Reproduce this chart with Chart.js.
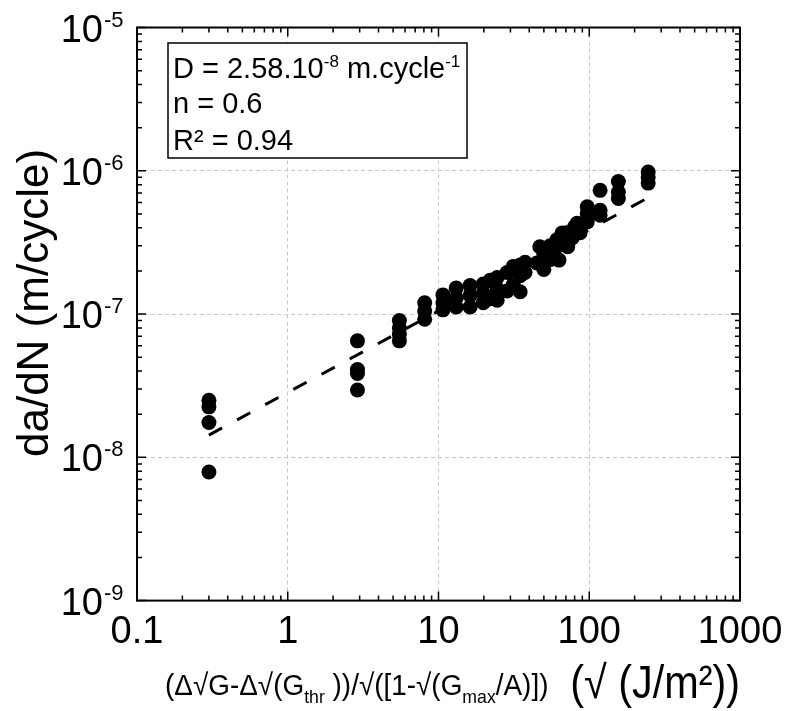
<!DOCTYPE html>
<html>
<head>
<meta charset="utf-8">
<title>da/dN</title>
<script src="https://cdn.jsdelivr.net/npm/chart.js@4/dist/chart.umd.min.js"></script>
<style>
  html, body { margin: 0; padding: 0; background: #fff; }
</style>
</head>
<body>
<canvas id="crack-growth" width="787" height="711"></canvas>
<script>
'use strict';

// measured points: x in sqrt(J/m2), y = da/dN in m/cycle
var xValues = [
  0.3, 0.3, 0.3, 0.3,
  2.9, 2.9, 2.9, 2.9,
  5.5, 5.5, 5.5, 5.5,
  8.1, 8.1, 8.1,
  10.7, 10.7, 10.7,
  13.1, 13.1, 13.1,
  16.2, 16.2, 16.2,
  19.8, 19.8, 19.8,
  22, 22,
  24.5, 24.5, 24.5,
  28.5, 28.5,
  31.3, 31.3,
  34.8, 34.8, 34.8,
  37.5, 37.5,
  45, 47, 50, 50,
  55, 55,
  61, 61, 63,
  66, 66,
  71, 72,
  77, 80,
  83, 87,
  97, 97, 97,
  118, 118, 118,
  156, 156, 156,
  246, 246, 246
];
var yValues = [
  2.5e-8, 2.25e-8, 1.75e-8, 7.9e-9,
  6.5e-8, 4.1e-8, 3.85e-8, 2.95e-8,
  9.0e-8, 8.0e-8, 7.2e-8, 6.5e-8,
  1.2e-7, 1.05e-7, 9.2e-8,
  1.36e-7, 1.2e-7, 1.07e-7,
  1.52e-7, 1.3e-7, 1.12e-7,
  1.58e-7, 1.35e-7, 1.12e-7,
  1.62e-7, 1.4e-7, 1.2e-7,
  1.72e-7, 1.28e-7,
  1.8e-7, 1.5e-7, 1.25e-7,
  1.95e-7, 1.45e-7,
  2.15e-7, 1.6e-7,
  2.2e-7, 1.85e-7, 1.43e-7,
  2.3e-7, 1.95e-7,
  2.27e-7, 2.95e-7, 2.6e-7, 2.05e-7,
  3.0e-7, 2.4e-7,
  3.3e-7, 2.95e-7, 2.38e-7,
  3.68e-7, 3.1e-7,
  3.7e-7, 2.95e-7,
  3.4e-7, 4.06e-7,
  4.3e-7, 3.7e-7,
  5.6e-7, 5.0e-7, 4.4e-7,
  7.3e-7, 5.3e-7, 4.9e-7,
  8.4e-7, 7.1e-7, 6.4e-7,
  9.8e-7, 9.0e-7, 8.2e-7
];

var fitX = [0.3, 247];
var fitY = [1.43e-8, 6.5e-7];

// axes
var xDecades = [0.1, 1, 10, 100, 1000];
var xTickLabels = ['0.1', '1', '10', '100', '1000'];
var yDecades = [1e-9, 1e-8, 1e-7, 1e-6, 1e-5];
var yTickExponents = ['-9', '-8', '-7', '-6', '-5'];

var FONT = '"Liberation Sans", Arial, sans-serif';

function toPoints(xs, ys) {
  return xs.map(function(x, i) {
    return { x: x, y: ys[i] };
  });
}

// major ticks at every decade, minor at 2..9
function logTicks(decades) {
  var list = [];
  decades.forEach(function(d, i) {
    list.push({ value: d, major: true });
    if (i < decades.length - 1) {
      for (var m = 2; m <= 9; m++) {
        list.push({ value: m * d, major: false });
      }
    }
  });
  return list;
}

// draw a run of text pieces {t, size, dy}
function drawRich(ctx, parts, x, y, squeeze) {
  ctx.save();
  ctx.translate(x, y);
  ctx.scale(squeeze || 1, 1);
  var cx = 0;
  parts.forEach(function(p) {
    ctx.font = p.size + 'px ' + FONT;
    ctx.fillText(p.t, cx, p.dy || 0);
    cx += ctx.measureText(p.t).width;
  });
  ctx.restore();
  return cx * (squeeze || 1);
}

function richWidth(ctx, parts, squeeze) {
  var w = 0;
  ctx.save();
  parts.forEach(function(p) {
    ctx.font = p.size + 'px ' + FONT;
    w += ctx.measureText(p.t).width;
  });
  ctx.restore();
  return w * (squeeze || 1);
}

var frameAndLabels = {
  id: 'frameAndLabels',
  afterDatasetsDraw: function(chart) {
    var ctx = chart.ctx;
    var a = chart.chartArea;
    var xs = chart.scales.x;
    var ys = chart.scales.y;
    ctx.save();
    ctx.fillStyle = '#000';
    ctx.strokeStyle = '#000';

    // inward tick marks on all four sides
    ctx.lineWidth = 1.5;
    ctx.beginPath();
    logTicks(xDecades).forEach(function(t) {
      var px = xs.getPixelForValue(t.value);
      var len = t.major ? 9 : 5;
      ctx.moveTo(px, a.bottom); ctx.lineTo(px, a.bottom - len);
      ctx.moveTo(px, a.top); ctx.lineTo(px, a.top + len);
    });
    logTicks(yDecades).forEach(function(t) {
      var py = ys.getPixelForValue(t.value);
      var len = t.major ? 9 : 5;
      ctx.moveTo(a.left, py); ctx.lineTo(a.left + len, py);
      ctx.moveTo(a.right, py); ctx.lineTo(a.right - len, py);
    });
    ctx.stroke();

    ctx.lineWidth = 2;
    ctx.strokeRect(a.left, a.top, a.right - a.left, a.bottom - a.top);

    // x tick labels
    ctx.font = '38px ' + FONT;
    ctx.textAlign = 'center';
    ctx.textBaseline = 'alphabetic';
    xDecades.forEach(function(v, i) {
      ctx.fillText(xTickLabels[i], xs.getPixelForValue(v), a.bottom + 42);
    });

    // y tick labels: 10 with exponent
    yDecades.forEach(function(v, i) {
      var py = ys.getPixelForValue(v);
      ctx.textAlign = 'right';
      ctx.font = '38px ' + FONT;
      ctx.fillText('10', 103, py + 14);
      ctx.textAlign = 'left';
      ctx.font = '22px ' + FONT;
      ctx.fillText(yTickExponents[i], 104, py - 1);
    });

    // y title
    ctx.save();
    ctx.translate(36, 303);
    ctx.rotate(-Math.PI / 2);
    ctx.textAlign = 'center';
    ctx.textBaseline = 'middle';
    ctx.font = '44px ' + FONT;
    ctx.fillText('da/dN (m/cycle)', 0, 0);
    ctx.restore();

    // x title: small expression, then big unit
    ctx.textAlign = 'left';
    var small = [
      { t: '(\u0394\u221AG-\u0394\u221A(G', size: 30 },
      { t: 'thr', size: 19, dy: 8 },
      { t: ' ))/\u221A([1-\u221A(G', size: 30 },
      { t: 'max', size: 19, dy: 8 },
      { t: '/A)])', size: 30 }
    ];
    var big = [{ t: '(\u221A (J/m\u00B2))', size: 46 }];
    drawRich(ctx, small, 165, 695, 0.93);
    var bw = richWidth(ctx, big, 0.9);
    drawRich(ctx, big, 740 - bw, 698, 0.9);

    // fit parameters box
    ctx.fillStyle = '#fff';
    ctx.fillRect(168, 43, 299, 115);
    ctx.lineWidth = 1.5;
    ctx.strokeRect(168, 43, 299, 115);
    ctx.fillStyle = '#000';
    drawRich(ctx, [
      { t: 'D = 2.58.10', size: 29 },
      { t: '-8', size: 17, dy: -11 },
      { t: ' m.cycle', size: 29 },
      { t: '-1', size: 17, dy: -11 }
    ], 173, 78);
    drawRich(ctx, [{ t: 'n = 0.6', size: 29 }], 173, 113);
    drawRich(ctx, [{ t: 'R\u00B2 = 0.94', size: 29 }], 173, 150);

    ctx.restore();
  }
};

createCrackGrowthChart();

function createCrackGrowthChart() {
  var ctx = document.getElementById('crack-growth');
  var chart = new Chart(ctx, {
    type: 'scatter',
    data: {
      datasets: [
        {
          label: 'Measured',
          data: toPoints(xValues, yValues),
          pointStyle: 'circle',
          pointRadius: 7.5,
          pointBackgroundColor: '#000',
          pointBorderColor: '#000',
          pointBorderWidth: 0,
          order: 1
        },
        {
          type: 'line',
          label: 'Fit',
          data: toPoints(fitX, fitY),
          borderColor: '#000',
          borderWidth: 3,
          borderDash: [15, 17],
          pointRadius: 0,
          fill: false,
          order: 2
        }
      ]
    },
    options: {
      responsive: false,
      animation: false,
      devicePixelRatio: 1,
      layout: {
        padding: { left: 137, right: 47, top: 27.5, bottom: 110.4 }
      },
      plugins: {
        legend: { display: false },
        tooltip: { enabled: false }
      },
      scales: {
        x: {
          type: 'logarithmic',
          min: 0.1,
          max: 1000,
          afterBuildTicks: function(axis) {
            axis.ticks = xDecades.map(function(v) { return { value: v, major: true }; });
          },
          ticks: { display: false },
          grid: { color: '#c8c8c8', lineWidth: 1, drawTicks: false },
          border: { display: false, dash: [4, 3] }
        },
        y: {
          type: 'logarithmic',
          min: 1e-9,
          max: 1e-5,
          afterBuildTicks: function(axis) {
            axis.ticks = yDecades.map(function(v) { return { value: v, major: true }; });
          },
          ticks: { display: false },
          grid: { color: '#c8c8c8', lineWidth: 1, drawTicks: false },
          border: { display: false, dash: [4, 3] }
        }
      }
    },
    plugins: [frameAndLabels]
  });
}
</script>
</body>
</html>
